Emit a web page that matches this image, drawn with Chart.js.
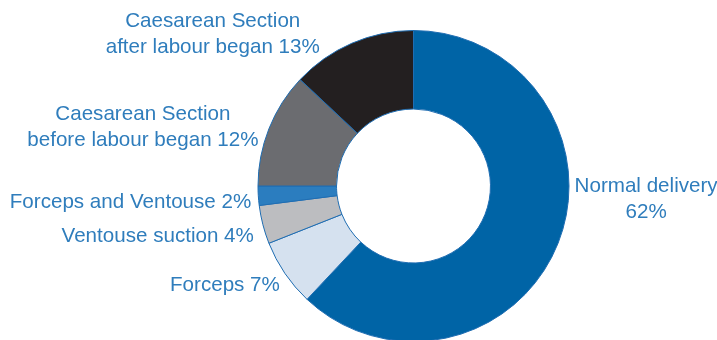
<!DOCTYPE html>
<html>
<head>
<meta charset="utf-8">
<script src="https://cdn.jsdelivr.net/npm/chart.js@4.4.0/dist/chart.umd.min.js"></script>
<style>
  html, body { margin: 0; padding: 0; background: #fff; overflow: hidden; }
</style>
</head>
<body>
<canvas id="myChart" width="717" height="360"></canvas>
<script>
// data, clockwise from 12 o'clock
var labels = [
  ['Normal delivery', '62%'],
  ['Forceps 7%'],
  ['Ventouse suction 4%'],
  ['Forceps and Ventouse 2%'],
  ['Caesarean Section', 'before labour began 12%'],
  ['Caesarean Section', 'after labour began 13%']
];
var values = [62, 7, 4, 2, 12, 13];
var colors = ['#0064a6', '#d5e1ef', '#bcbdc0', '#2b7dbf', '#6b6c70', '#231f20'];

// where each label sits, relative to the outer middle of its slice
var labelPlace = [
  {dx: 88, dy: -51, align: 'center'},
  {dx: -5, dy: 18, align: 'right'},
  {dx: -9, dy: 17, align: 'right'},
  {dx: -7, dy: 12, align: 'right'},
  {dx: -126, dy: -9, align: 'center'},
  {dx: -139, dy: -16, align: 'center'}
];

var sliceLabels = {
  id: 'sliceLabels',
  afterDraw: function(chart) {
    var ctx = chart.ctx;
    var arcs = chart.getDatasetMeta(0).data;
    ctx.save();
    ctx.fillStyle = '#2f7dbc';
    ctx.font = '20.6px "Liberation Sans", Arial, sans-serif';
    ctx.textBaseline = 'alphabetic';
    arcs.forEach(function(arc, i) {
      var p = arc.getProps(['x', 'y', 'startAngle', 'endAngle', 'outerRadius'], true);
      var mid = (p.startAngle + p.endAngle) / 2;
      var ax = p.x + Math.cos(mid) * p.outerRadius;
      var ay = p.y + Math.sin(mid) * p.outerRadius;
      var pl = labelPlace[i];
      ctx.textAlign = pl.align;
      labels[i].forEach(function(line, k) {
        ctx.fillText(line, ax + pl.dx, ay + pl.dy + k * 26);
      });
    });
    ctx.restore();
  }
};

var ctx = document.getElementById('myChart').getContext('2d');
var myChart = new Chart(ctx, {
  type: 'doughnut',
  data: {
    labels: labels.map(function(l) { return l.join(' '); }),
    datasets: [{
      data: values,
      backgroundColor: colors,
      borderColor: '#1f6db2',
      borderWidth: 1
    }]
  },
  options: {
    responsive: false,
    animation: false,
    cutout: '49.5%',
    layout: {
      padding: {top: 30, left: 257, right: 147, bottom: 18}
    },
    plugins: {
      legend: {display: false},
      tooltip: {enabled: false}
    }
  },
  plugins: [sliceLabels]
});
</script>
</body>
</html>
